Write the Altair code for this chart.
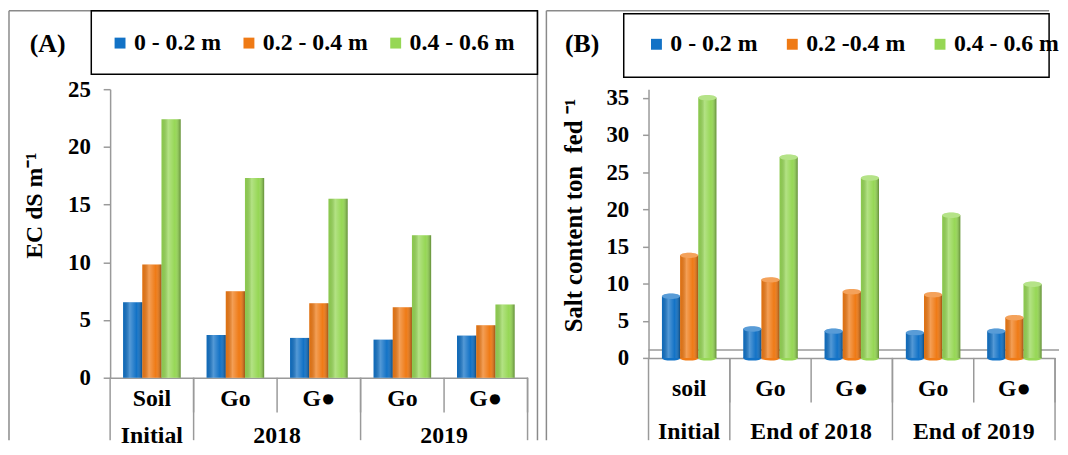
import altair as alt
import pandas as pd

# ---------------- data ----------------
depths_A = ["0 - 0.2 m", "0.2 - 0.4 m", "0.4 - 0.6 m"]
depths_B = ["0 - 0.2 m", "0.2 -0.4 m", "0.4 - 0.6 m"]
colors = ["#1272C6", "#EF7A15", "#96D755"]

sub_A = ["Soil", "Go", "G●", "Go", "G●"]
grp_A = ["Initial", "2018", "2018", "2019", "2019"]
ec_d1 = [6.55, 3.7, 3.45, 3.3, 3.65]
ec_d2 = [9.8, 7.5, 6.45, 6.1, 4.55]
ec_d3 = [22.4, 17.3, 15.5, 12.35, 6.35]

sub_B = ["soil", "Go", "G●", "Go", "G●"]
grp_B = ["Initial", "End of 2018", "End of 2018", "End of 2019", "End of 2019"]
salt_d1 = [8.3, 3.9, 3.6, 3.4, 3.6]
salt_d2 = [13.8, 10.5, 8.9, 8.5, 5.4]
salt_d3 = [35.0, 27.0, 24.2, 19.2, 9.9]

FONT = "Liberation Serif"
GRAY = "#9a9a9a"
FRAME = "#8a8a8a"
ELLIPSE = "M -1 0 A 1 0.3 0 1 0 1 0 A 1 0.3 0 1 0 -1 0 Z"
FS = 24

shade = alt.LinearGradient(
    gradient="linear",
    stops=[
        alt.GradientStop(color="rgba(0,0,0,0.06)", offset=0),
        alt.GradientStop(color="rgba(255,255,255,0.28)", offset=0.35),
        alt.GradientStop(color="rgba(255,255,255,0.0)", offset=0.7),
        alt.GradientStop(color="rgba(0,0,0,0.35)", offset=1),
    ],
    x1=0, x2=1, y1=0, y2=0,
)

one = alt.Data(values=[{}])


def hrule(x, x2, y, color=FRAME, w=1.5):
    return alt.Chart(one).mark_rule(color=color, strokeWidth=w).encode(
        x=alt.value(x), x2=alt.value(x2), y=alt.value(y))


def vrule(x, y, y2, color=FRAME, w=1.5):
    return alt.Chart(one).mark_rule(color=color, strokeWidth=w).encode(
        x=alt.value(x), y=alt.value(y), y2=alt.value(y2))


def build_panel(sub, grp, depths, series, ymax, ytop, ytitle, letter, c):
    keys = [f"{s}|{g}" for s, g in zip(sub, grp)]
    rows = [{"cat": k, "depth": d, "value": v}
            for d, vals in zip(depths, series) for k, v in zip(keys, vals)]
    df = pd.DataFrame(rows)
    W, H, p = c["W"], c["H"], c["p"]
    po = 3 * p / (2 * (1 - p))
    order = list(dict.fromkeys(grp))
    gdf = pd.DataFrame([{
        "group": g,
        "first": keys[grp.index(g)],
        "last": keys[len(grp) - 1 - grp[::-1].index(g)],
        "n": grp.count(g)} for g in order])
    catdf = pd.DataFrame({"cat": keys})

    xscale = alt.Scale(domain=keys, paddingInner=0, paddingOuter=0)
    xoff = alt.XOffset("depth:N", sort=depths,
                       scale=alt.Scale(domain=depths, paddingInner=0, paddingOuter=po))
    yscale = alt.Scale(domain=[0, ytop], nice=False, zero=True)

    xaxis = alt.Axis(title=None, labelExpr="split(datum.label,'|')[0]",
                     ticks=False, grid=False, domainColor=GRAY, domainWidth=1.5,
                     labelFont=FONT, labelFontSize=FS, labelFontWeight="bold",
                     labelColor="black", labelPadding=c["lab"], labelBaseline="middle",
                     labelAngle=0)
    yaxis = alt.Axis(title=ytitle, values=list(range(0, ymax + 1, 5)), grid=False,
                     tickSize=c["ts"], tickColor=GRAY, tickWidth=1.5,
                     domainColor=GRAY, domainWidth=1.5,
                     labelFont=FONT, labelFontSize=23, labelFontWeight="bold",
                     labelColor="black", labelPadding=c["ylp"],
                     titleFont=FONT, titleFontSize=c["tfs"], titleFontWeight="bold",
                     titleColor="black", titleX=c["tx"], titleY=c["ty"],
                     titleAngle=270, titleBaseline="middle", titleAlign="center")

    legend = alt.Legend(orient="none", legendX=c["lx"], legendY=c["ly"],
                        direction="horizontal", columns=3, title=None,
                        symbolType="square", symbolSize=121, symbolStrokeWidth=0,
                        symbolOpacity=1, labelFont=FONT, labelFontSize=FS,
                        labelFontWeight="bold", labelColor="black", labelOffset=2,
                        columnPadding=c["cp"], padding=0, labelLimit=300)

    color = alt.Color("depth:N", sort=depths,
                      scale=alt.Scale(domain=depths, range=colors), legend=legend)

    X = lambda f, **kw: alt.X(f, scale=xscale, axis=xaxis, **kw)
    Y = lambda f: alt.Y(f, scale=yscale, axis=yaxis)

    base = alt.Chart(df)
    bars = base.mark_bar().encode(x=X("cat:N", sort=keys), xOffset=xoff,
                                  y=Y("value:Q"), color=color)
    over = base.mark_bar(fill=shade).encode(x=X("cat:N", sort=keys), xOffset=xoff,
                                            y=Y("value:Q"))
    layers = []
    if c.get("cyl", False):
        # 3-D floor edge behind the cylinders
        layers.append(hrule(0, W + 4, H - 8, color=GRAY))
        bw = W / len(keys) * (1 - p) / len(depths)
        size = bw * bw
        bot = base.transform_calculate(zero="0").mark_point(
            shape=ELLIPSE, filled=True, opacity=1, size=size).encode(
            x=X("cat:N", sort=keys), xOffset=xoff, y=Y("zero:Q"), color=color)
        top = base.mark_point(shape=ELLIPSE, filled=True, opacity=1, size=size).encode(
            x=X("cat:N", sort=keys), xOffset=xoff, y=Y("value:Q"), color=color)
        topl = base.mark_point(shape=ELLIPSE, filled=True, opacity=0.3, size=size,
                               color="white").encode(
            x=X("cat:N", sort=keys), xOffset=xoff, y=Y("value:Q"))
        layers += [bars, bot, over, top, topl]
    else:
        layers += [bars, over]

    fx0, fx1, fy0, fy1 = c["frame"]
    layers.append(hrule(fx0, fx1, fy0))
    layers.append(vrule(fx0, fy0, fy1))
    if c.get("right_frame", True):
        layers.append(vrule(fx1, fy0, fy1))
    bx0, bx1, by0, by1 = c["box"]
    layers.append(alt.Chart(one).mark_rect(fillOpacity=0, stroke="black", strokeWidth=1.5).encode(
        x=alt.value(bx0), x2=alt.value(bx1), y=alt.value(by0), y2=alt.value(by1)))
    layers.append(alt.Chart(one).mark_text(text=letter, font=FONT, fontSize=26,
                                           fontWeight="bold", align="center",
                                           baseline="middle", color="black").encode(
        x=alt.value(c["letter"][0]), y=alt.value(c["letter"][1])))

    bottom = fy1
    seps = alt.Chart(catdf).mark_rule(color=GRAY, strokeWidth=1.5).encode(
        x=X("cat:N", sort=keys, bandPosition=1),
        y=alt.value(H), y2=alt.value(H + c["sep"]))
    gseps = alt.Chart(gdf).mark_rule(color=GRAY, strokeWidth=1.5).encode(
        x=X("last:N", bandPosition=1),
        y=alt.value(H), y2=alt.value(bottom))
    lsep = vrule(0, H, bottom, color=GRAY)
    g1 = alt.Chart(gdf).transform_filter("datum.n == 1").mark_text(
        font=FONT, fontSize=FS, fontWeight="bold", baseline="middle", color="black").encode(
        x=X("first:N"), y=alt.value(c["gy"]), text="group:N")
    g2 = alt.Chart(gdf).transform_filter("datum.n == 2").mark_text(
        font=FONT, fontSize=FS, fontWeight="bold", baseline="middle", color="black").encode(
        x=X("first:N", bandPosition=1), y=alt.value(c["gy"]), text="group:N")
    layers += [seps, gseps, lsep, g1, g2]
    return alt.layer(*layers).properties(width=W, height=H)


cfgA = dict(W=421, H=291, p=0.31, ts=7, ylp=13, lab=21, tx=-76, ty=117, tfs=24,
            lx=-2, ly=-58.5, cp=16,
            frame=(-102, 431, -79, 354), box=(-19, 431, -79, -15),
            letter=(-63, -46), sep=35, gy=350)
# panel B: plot top aligned with panel A (page y 87); 35 sits at page y 95.7
cfgB = dict(W=410, H=271, p=0.33, ts=6, ylp=14, lab=31, tx=-76, ty=127, tfs=25,
            lx=-4, ly=-57.3, cp=23,
            frame=(-103, 404, -79, 354), box=(-25, 404, -76, -12),
            letter=(-67, -46), sep=45, gy=346, right_frame=False, cyl=True)

panelA = build_panel(sub_A, grp_A, depths_A, [ec_d1, ec_d2, ec_d3], 25, 25,
                     "EC dS m⁻¹", "(A)", cfgA)
panelB = build_panel(sub_B, grp_B, depths_B, [salt_d1, salt_d2, salt_d3], 35, 35 * 271 / 262.3,
                     "Salt content ton\u00a0\u00a0fed\u00a0⁻¹", "(B)", cfgB)

chart = alt.hconcat(panelA, panelB, spacing=7).resolve_scale(
    color="independent", xOffset="independent").properties(
    padding=0).configure_view(stroke=None)

chart.save("out.html", embed_options={"renderer": "svg", "actions": False})
